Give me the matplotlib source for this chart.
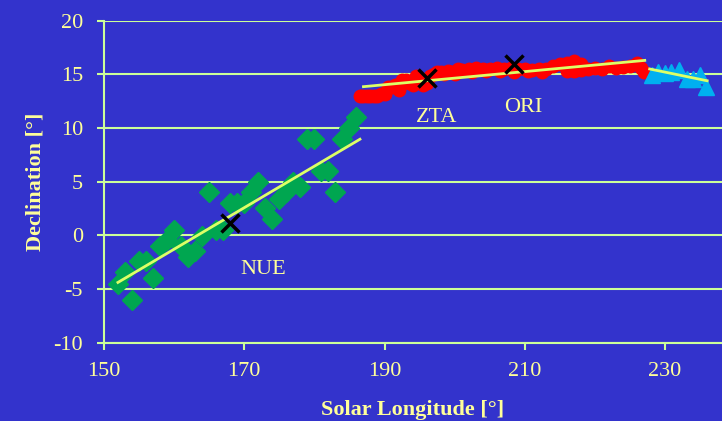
import matplotlib
matplotlib.use("Agg")
import matplotlib.pyplot as plt

# NUE (green diamonds)
nue_lon = [152, 153, 154, 155, 156, 157, 158, 159, 160, 161, 162, 163, 164, 165,
           166, 167, 168, 169, 170, 171, 172, 173, 174, 175, 176, 177, 178, 179,
           180, 181, 182, 183, 184, 185, 186]
nue_dec = [-4.5, -3.4, -6.0, -2.4, -2.4, -4.0, -1.0, -0.4, 0.5, -1.0, -2.0, -1.5,
           -0.1, 4.0, 0.5, 0.5, 3.0, 3.0, 3.0, 4.0, 5.0, 2.5, 1.5, 3.4, 4.0, 5.0,
           4.5, 9.0, 9.0, 6.0, 6.0, 4.0, 9.0, 10.0, 11.0]

# ZTA / ORI (red circles)
ori_lon = [186.5, 187, 187.5, 188, 188.5, 189, 189.5, 190, 190.5, 191, 191.5, 192,
           192.5, 193, 193.5, 194, 194.5, 195, 195.5, 196, 196.5, 197, 197.5, 198,
           198.5, 199, 199.5, 200, 200.5, 201, 202, 203, 204, 205, 206, 207, 208,
           209, 210, 211, 212, 213, 214, 215, 216, 217, 218, 216, 217, 218, 219,
           220, 221, 222, 223, 224, 225, 226, 226.5, 227,
           202.5, 204.5, 206.5, 208.5, 210.5, 212.5]
ori_dec = [13.0, 13.0, 13.0, 13.0, 13.0, 13.0, 13.2, 13.2, 13.8, 13.8, 14.0, 13.5,
           14.5, 14.5, 14.2, 14.0, 14.8, 14.5, 14.0, 14.2, 14.8, 15.0, 15.2, 15.2,
           15.0, 15.3, 15.2, 15.0, 15.5, 15.4, 15.5, 15.6, 15.5, 15.5, 15.6, 15.5,
           15.6, 15.5, 15.5, 15.4, 15.5, 15.5, 15.8, 16.0, 16.1, 16.2, 16.0, 15.3,
           15.3, 15.4, 15.5, 15.6, 15.5, 15.8, 15.6, 15.7, 15.8, 16.1, 15.6, 15.2,
           15.2, 15.3, 15.3, 15.2, 15.3, 15.2]

# cyan triangles
tri_lon = [228.1, 229.0, 230.0, 230.9, 232.0, 233.1, 234.0, 235.0, 235.9]
tri_dec = [14.9, 15.2, 15.1, 15.2, 15.4, 14.6, 14.6, 14.9, 13.85]

# fitted lines (end points)
nue_fit_lon = [152.0, 186.5]
nue_fit_dec = [-4.4, 8.95]
ori_fit_lon = [187.0, 227.1]
ori_fit_dec = [13.85, 16.3]
tri_fit_lon = [227.8, 236.0]
tri_fit_dec = [15.5, 14.4]

# mean radiants (black crosses)
mean_lon = [168.0, 196.0, 208.5]
mean_dec = [1.1, 14.7, 16.0]

labels = ["NUE", "ZTA", "ORI"]
label_lon = [172.7, 197.5, 209.8]
label_dec = [-3.2, 11.0, 11.9]

bg = "#3333CC"
grid_col = "#CCFF99"
txt_col = "#FFFF99"

plt.rcParams['font.family'] = ['Liberation Serif', 'DejaVu Serif']
plt.rcParams['axes.unicode_minus'] = False

fig = plt.figure(figsize=(7.22, 4.21), dpi=100, facecolor=bg)
ax = fig.add_axes([103.9 / 722, (421 - 342.5) / 421, (722 - 103.9) / 722, 321.8 / 421])
ax.set_facecolor(bg)

ax.set_xlim(150, 150 + (722 - 103.9) / 7.015)
ax.set_ylim(-10, 20)
ax.set_xticks([150, 170, 190, 210, 230])
ax.set_yticks(range(-10, 21, 5))
ax.yaxis.grid(True, color=grid_col, lw=1.5)
ax.set_axisbelow(True)

for s in ['top', 'right']:
    ax.spines[s].set_visible(False)
for s in ['left', 'bottom']:
    ax.spines[s].set_color(grid_col)
    ax.spines[s].set_linewidth(1.5)
ax.tick_params(colors=grid_col, labelcolor=txt_col, labelsize=16, length=5, width=1.5)
ax.tick_params(axis='x', pad=9)
ax.tick_params(axis='y', pad=10)

ax.plot(nue_lon, nue_dec, 'D', color="#00A650", ms=10, mec="#00A650", zorder=3)
ax.plot(ori_lon, ori_dec, 'o', color="#FF0000", ms=9, mec="#FF0000", zorder=3)
ax.plot(tri_lon, tri_dec, '^', color="#00B0F0", ms=11, mec="#00B0F0", zorder=3)

for lx, ly in [(nue_fit_lon, nue_fit_dec), (ori_fit_lon, ori_fit_dec), (tri_fit_lon, tri_fit_dec)]:
    ax.plot(lx, ly, '-', color="#DDFF66", lw=2, zorder=4)

ax.plot(mean_lon, mean_dec, 'x', color='black', ms=13, mew=2.5, zorder=5)

for t, lx, ly in zip(labels, label_lon, label_dec):
    ax.text(lx, ly, t, color=txt_col, fontsize=16, ha='center', va='center')

ax.set_xlabel("Solar Longitude [°]", color=txt_col, fontsize=16, fontweight='bold', labelpad=14)
ax.set_ylabel("Declination [°]", color=txt_col, fontsize=16, fontweight='bold', labelpad=6)

fig.savefig("out.png", dpi=100, facecolor=bg)
